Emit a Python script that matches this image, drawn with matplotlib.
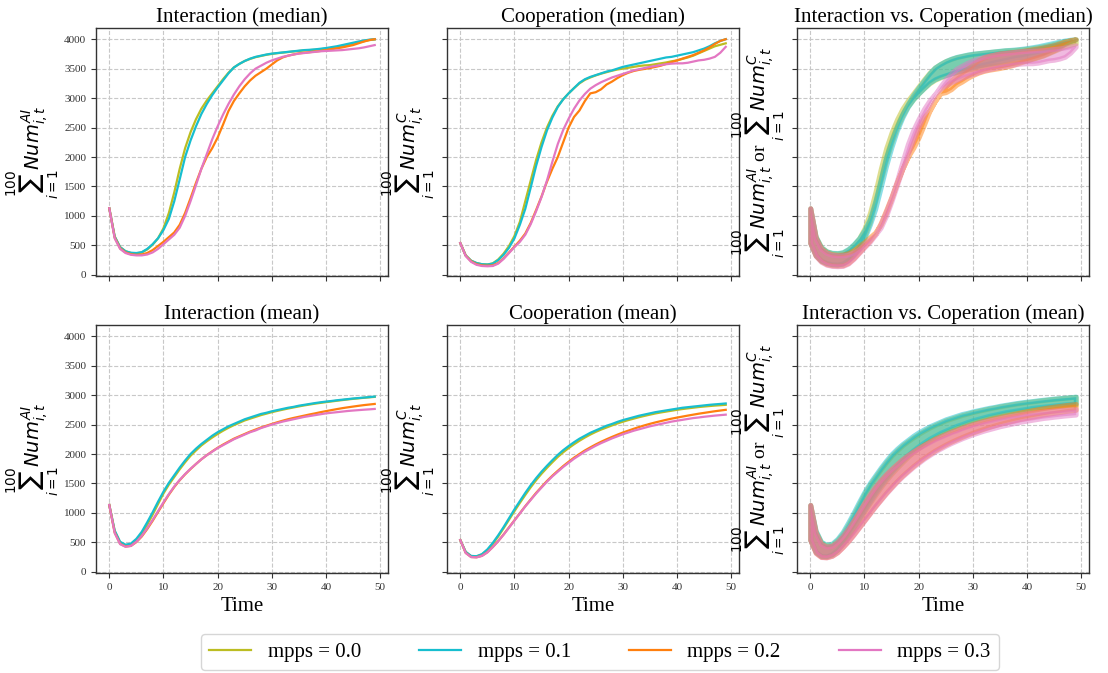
import numpy as np
import matplotlib
matplotlib.use("Agg")
import matplotlib.pyplot as plt

t = np.arange(50)
labels = ["mpps = 0.0", "mpps = 0.1", "mpps = 0.2", "mpps = 0.3"]
colors = ["tab:olive", "tab:cyan", "tab:orange", "tab:pink"]

# Interaction (median)
int_med_00 = [1130, 650, 470, 400, 370, 365, 380, 430, 510, 620, 790, 1050, 1400, 1800, 2150, 2420, 2640, 2820, 2960, 3080,
              3200, 3320, 3430, 3520, 3580, 3630, 3665, 3695, 3715, 3735, 3750, 3762, 3772, 3782, 3792, 3800, 3810, 3815, 3820, 3830,
              3840, 3850, 3865, 3880, 3900, 3920, 3945, 3965, 3985, 3995]
int_med_01 = [1130, 650, 470, 400, 375, 370, 385, 440, 520, 620, 760, 950, 1250, 1620, 2000, 2280, 2520, 2730, 2900, 3050,
              3180, 3300, 3420, 3520, 3580, 3630, 3670, 3700, 3720, 3740, 3755, 3765, 3775, 3785, 3795, 3805, 3815, 3820, 3828, 3838,
              3850, 3865, 3880, 3900, 3920, 3940, 3960, 3978, 3992, 4000]
int_med_02 = [1130, 630, 450, 380, 350, 340, 345, 370, 420, 490, 560, 640, 720, 850, 1050, 1300, 1560, 1800, 2000, 2150,
              2330, 2550, 2780, 2950, 3080, 3200, 3300, 3380, 3440, 3500, 3570, 3640, 3690, 3720, 3740, 3760, 3770, 3780, 3790, 3800,
              3815, 3830, 3845, 3860, 3880, 3900, 3930, 3960, 3985, 4000]
int_med_03 = [1130, 620, 440, 370, 340, 330, 330, 345, 380, 440, 520, 600, 680, 800, 1000, 1250, 1520, 1800, 2050, 2300,
              2520, 2720, 2900, 3060, 3200, 3320, 3420, 3500, 3550, 3600, 3640, 3670, 3700, 3720, 3740, 3755, 3765, 3775, 3785, 3795,
              3800, 3805, 3810, 3815, 3825, 3835, 3845, 3860, 3880, 3900]

# Cooperation (median)
coo_med_00 = [540, 330, 240, 200, 180, 175, 195, 260, 360, 490, 660, 900, 1250, 1600, 1950, 2250, 2500, 2700, 2860, 2980,
              3080, 3170, 3250, 3310, 3350, 3385, 3415, 3440, 3465, 3485, 3500, 3515, 3530, 3545, 3555, 3560, 3575, 3590, 3605, 3625,
              3640, 3665, 3690, 3720, 3760, 3800, 3840, 3880, 3905, 3930]
coo_med_01 = [540, 330, 240, 200, 180, 175, 190, 250, 340, 460, 620, 850, 1120, 1480, 1850, 2170, 2450, 2670, 2850, 2980,
              3080, 3170, 3260, 3320, 3360, 3390, 3420, 3450, 3470, 3500, 3530, 3550, 3570, 3590, 3610, 3630, 3650, 3670, 3690, 3700,
              3720, 3740, 3760, 3780, 3810, 3840, 3880, 3930, 3970, 4000]
coo_med_02 = [540, 325, 230, 180, 160, 155, 160, 200, 280, 380, 480, 580, 700, 880, 1100, 1330, 1580, 1800, 2000, 2250,
              2500, 2680, 2790, 2950, 3080, 3100, 3150, 3230, 3280, 3340, 3390, 3430, 3460, 3480, 3495, 3510, 3530, 3550, 3580, 3610,
              3640, 3670, 3700, 3730, 3770, 3810, 3860, 3920, 3970, 4000]
coo_med_03 = [540, 320, 220, 170, 150, 145, 150, 190, 270, 370, 470, 560, 680, 860, 1080, 1320, 1600, 1920, 2220, 2460,
              2650, 2820, 2960, 3070, 3160, 3220, 3270, 3310, 3350, 3380, 3410, 3440, 3470, 3490, 3510, 3530, 3545, 3560, 3575, 3585,
              3590, 3590, 3600, 3620, 3640, 3650, 3670, 3700, 3770, 3870]

# Interaction (mean)
int_mean_00 = [1135, 690, 500, 450, 465, 540, 650, 800, 970, 1150, 1330, 1480, 1610, 1740, 1860, 1970, 2060, 2145, 2215, 2280,
               2340, 2395, 2445, 2490, 2530, 2570, 2600, 2630, 2660, 2685, 2710, 2732, 2752, 2772, 2790, 2808, 2825, 2840, 2855, 2868,
               2880, 2892, 2904, 2915, 2926, 2936, 2945, 2954, 2962, 2970]
int_mean_01 = [1135, 700, 510, 460, 480, 560, 680, 840, 1010, 1190, 1360, 1510, 1640, 1770, 1890, 2000, 2090, 2170, 2240, 2310,
               2370, 2420, 2470, 2510, 2550, 2590, 2620, 2650, 2680, 2700, 2725, 2745, 2765, 2785, 2800, 2820, 2835, 2850, 2865, 2878,
               2890, 2900, 2912, 2922, 2932, 2942, 2950, 2958, 2966, 2975]
int_mean_02 = [1135, 665, 475, 430, 440, 505, 600, 725, 865, 1015, 1165, 1310, 1440, 1555, 1655, 1745, 1830, 1910, 1980, 2045,
               2105, 2160, 2210, 2260, 2300, 2340, 2380, 2415, 2450, 2480, 2510, 2538, 2565, 2590, 2612, 2632, 2652, 2672, 2690, 2710,
               2728, 2745, 2762, 2778, 2792, 2805, 2818, 2830, 2840, 2850]
int_mean_03 = [1135, 660, 470, 425, 440, 510, 610, 740, 880, 1030, 1180, 1320, 1450, 1560, 1660, 1750, 1830, 1910, 1980, 2040,
               2100, 2150, 2200, 2250, 2290, 2330, 2370, 2400, 2440, 2470, 2500, 2525, 2550, 2570, 2590, 2610, 2630, 2645, 2660, 2675,
               2690, 2700, 2710, 2720, 2730, 2738, 2745, 2752, 2758, 2765]

# Cooperation (mean)
coo_mean_00 = [540, 335, 265, 260, 295, 370, 475, 600, 740, 885, 1030, 1170, 1305, 1435, 1555, 1665, 1765, 1860, 1950, 2030,
               2100, 2165, 2225, 2280, 2330, 2375, 2415, 2450, 2485, 2518, 2548, 2575, 2600, 2625, 2647, 2668, 2688, 2705, 2720, 2735,
               2750, 2763, 2775, 2786, 2797, 2806, 2814, 2822, 2828, 2835]
coo_mean_01 = [540, 340, 270, 265, 300, 380, 490, 620, 760, 910, 1060, 1200, 1340, 1470, 1590, 1700, 1800, 1895, 1985, 2065,
               2135, 2200, 2260, 2310, 2360, 2400, 2440, 2480, 2510, 2545, 2575, 2600, 2625, 2650, 2670, 2690, 2710, 2725, 2740, 2755,
               2770, 2785, 2795, 2805, 2815, 2825, 2835, 2843, 2850, 2858]
coo_mean_02 = [540, 322, 252, 247, 272, 332, 422, 522, 635, 755, 875, 995, 1115, 1228, 1340, 1442, 1542, 1632, 1715, 1795,
               1868, 1938, 2000, 2060, 2112, 2162, 2208, 2250, 2290, 2328, 2364, 2396, 2428, 2458, 2486, 2512, 2536, 2558, 2580, 2600,
               2618, 2635, 2652, 2668, 2684, 2698, 2712, 2726, 2738, 2750]
coo_mean_03 = [540, 320, 250, 245, 270, 330, 420, 520, 630, 750, 870, 990, 1110, 1220, 1330, 1430, 1530, 1620, 1700, 1780,
               1850, 1920, 1980, 2040, 2090, 2140, 2185, 2225, 2265, 2300, 2335, 2365, 2395, 2420, 2445, 2470, 2490, 2510, 2530, 2550,
               2565, 2580, 2595, 2610, 2620, 2632, 2642, 2652, 2660, 2668]

int_med = [int_med_00, int_med_01, int_med_02, int_med_03]
coo_med = [coo_med_00, coo_med_01, coo_med_02, coo_med_03]
int_mean = [int_mean_00, int_mean_01, int_mean_02, int_mean_03]
coo_mean = [coo_mean_00, coo_mean_01, coo_mean_02, coo_mean_03]

serif = "Liberation Serif"
plt.rcParams["font.family"] = serif
plt.rcParams["mathtext.fontset"] = "dejavusans"

fig = plt.figure(figsize=(11.08, 6.73), dpi=100)
W, H = 1108, 673
lefts = [96, 447, 797]
width = 292
tops = [28, 325]
heights = [248, 248]

axes = [[None] * 3 for _ in range(2)]
ref = None
for r in range(2):
    for c in range(3):
        rect = [lefts[c] / W, 1 - (tops[r] + heights[r]) / H, width / W, heights[r] / H]
        if ref is None:
            ax = fig.add_axes(rect)
            ref = ax
        else:
            ax = fig.add_axes(rect, sharex=ref, sharey=ref)
        axes[r][c] = ax

titles = [["Interaction (median)", "Cooperation (median)", "Interaction vs. Coperation (median)"],
          ["Interaction (mean)", "Cooperation (mean)", "Interaction vs. Coperation (mean)"]]
ylab_ai = r"$\sum_{i=1}^{100}Num_{i,t}^{AI}$"
ylab_c = r"$\sum_{i=1}^{100}Num_{i,t}^{C}$"
ylab_both = ylab_ai + " or " + ylab_c

data_rows = [(int_med, coo_med), (int_mean, coo_mean)]
for r in range(2):
    inter, coop = data_rows[r]
    for k in range(4):
        axes[r][0].plot(t, inter[k], color=colors[k], lw=1.6, label=labels[k])
        axes[r][1].plot(t, coop[k], color=colors[k], lw=1.6)
        axes[r][2].fill_between(t, inter[k], coop[k], color=colors[k], alpha=0.5, lw=3.5)
    for c in range(3):
        ax = axes[r][c]
        ax.set_title(titles[r][c], fontsize=15, family=serif, pad=4)
        ax.grid(True, ls="--", color="#c8c8c8", lw=0.8)
        ax.set_axisbelow(True)
        for s in ax.spines.values():
            s.set_color("#333333")
            s.set_linewidth(1.0)
        ax.tick_params(labelsize=8, colors="#333333", length=3.5, width=0.8)
        if c != 0:
            ax.tick_params(labelleft=False)
        if r == 0:
            ax.tick_params(labelbottom=False)
        else:
            ax.set_xlabel("Time", fontsize=15, family=serif, labelpad=4)
    axes[r][0].set_ylabel(ylab_ai, fontsize=14, labelpad=2)
    axes[r][1].set_ylabel(ylab_c, fontsize=14, labelpad=4)
    axes[r][2].set_ylabel(ylab_both, fontsize=14, labelpad=4)

ref.set_yticks(np.arange(0, 4001, 500))
ref.set_xticks(np.arange(0, 51, 10))
ref.set_ylim(-20, 4190)

handles, labs = axes[0][0].get_legend_handles_labels()
fig.legend(handles, labs, loc="center", bbox_to_anchor=(0.5415, 0.031), ncol=4,
           prop={"family": serif, "size": 15}, columnspacing=2.8, handlelength=2.0,
           frameon=True, edgecolor="#cccccc", fancybox=True)

fig.savefig("out.png", dpi=100)
